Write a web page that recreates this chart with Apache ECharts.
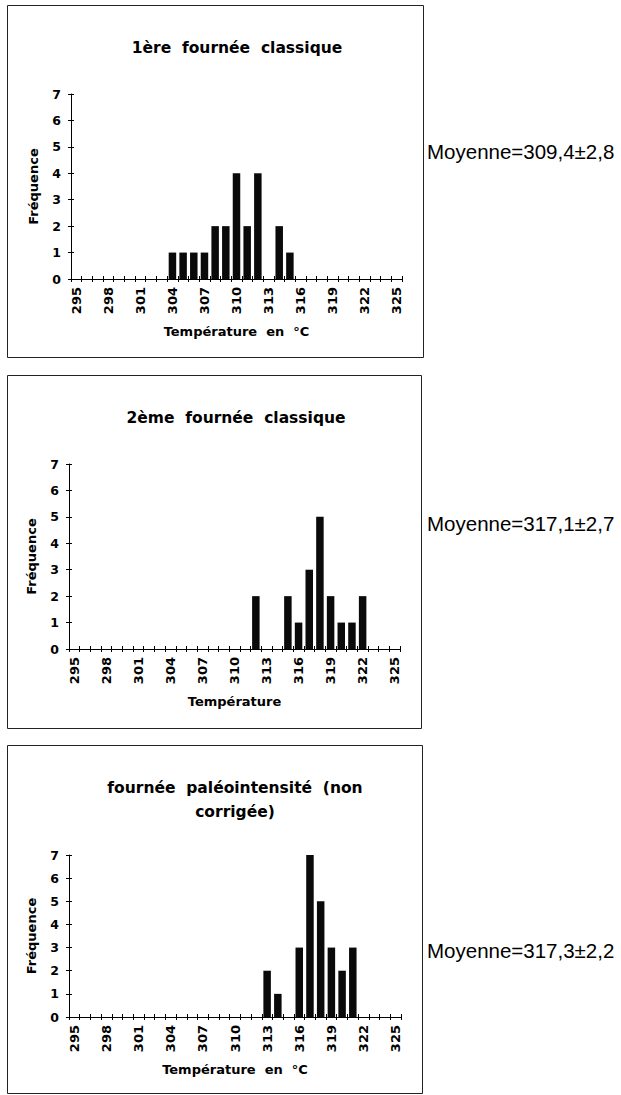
<!DOCTYPE html>
<html>
<head>
<meta charset="utf-8">
<script src="https://cdn.jsdelivr.net/npm/echarts@6/dist/echarts.min.js"></script>
<style>
  html, body { margin: 0; padding: 0; background: #fff; }
  #chart { width: 621px; height: 1095px; }
</style>
</head>
<body>
<div id="chart"></div>
<script>
// Temperature classes (°C), one bar slot per degree
const temperatures = ['295','296','297','298','299','300','301','302','303','304',
                      '305','306','307','308','309','310','311','312','313','314',
                      '315','316','317','318','319','320','321','322','323','324','325'];

// Frequencies per temperature class for each batch
const freqBatch1 = [0,0,0,0,0,0,0,0,0,1, 1,1,1,2,2,4,2,4,0,2, 1,0,0,0,0,0,0,0,0,0,0];
const freqBatch2 = [0,0,0,0,0,0,0,0,0,0, 0,0,0,0,0,0,0,2,0,0, 2,1,3,5,2,1,1,2,0,0,0];
const freqBatch3 = [0,0,0,0,0,0,0,0,0,0, 0,0,0,0,0,0,0,0,2,1, 0,3,7,5,3,2,3,0,0,0,0];

const panelTitles = ['1ère  fournée  classique',
                     '2ème  fournée  classique',
                     'fournée  paléointensité  (non\ncorrigée)'];
const xTitles = ['Température  en  °C', 'Température', 'Température  en  °C'];
const yTitle = 'Fréquence';
const meanLabels = ['Moyenne=309,4±2,8', 'Moyenne=317,1±2,7', 'Moyenne=317,3±2,2'];
const yTicks = { min: 0, max: 7, interval: 1 };

const seriesData = [freqBatch1, freqBatch2, freqBatch3];

// Layout of the three stacked panels
const layout = [
  { grid: { left: 71, top: 94,  width: 331, height: 185 }, box: [7, 5, 416, 352],   title: [237, 48],  mean: [427, 151] },
  { grid: { left: 69, top: 464, width: 331, height: 185 }, box: [7, 375, 414, 353], title: [236, 418], mean: [427, 523] },
  { grid: { left: 69, top: 855, width: 332, height: 162 }, box: [7, 745, 415, 348], title: [235, 788], mean: [427, 950] }
];

const FONT = '"DejaVu Sans", Verdana, sans-serif';
const boldText = (size) => ({ fontFamily: FONT, fontWeight: 'bold', fontSize: size, color: '#000' });

const grids = [], xAxes = [], yAxes = [], series = [], graphics = [];

layout.forEach((p, i) => {
  grids.push(Object.assign({ containLabel: false }, p.grid));

  // main category axis with labels and outward ticks
  xAxes.push({
    type: 'category', gridIndex: i, position: 'bottom', data: temperatures, boundaryGap: true,
    name: xTitles[i], nameLocation: 'middle', nameGap: 46,
    nameTextStyle: boldText(13),
    axisLine: { lineStyle: { color: '#000', width: 1 } },
    axisTick: { show: true, interval: 0, length: 3, lineStyle: { color: '#000' } },
    axisLabel: Object.assign({ interval: 2, rotate: 90, margin: 8 }, boldText(13)),
    splitLine: { show: false }
  });
  // overlay axis giving the inward half of each crossing tick
  xAxes.push({
    type: 'category', gridIndex: i, position: 'bottom', data: temperatures, boundaryGap: true,
    axisLine: { show: false },
    axisTick: { show: true, inside: true, interval: 0, length: 3, lineStyle: { color: '#000' } },
    axisLabel: { show: false }, splitLine: { show: false }
  });

  yAxes.push({
    type: 'value', gridIndex: i, position: 'left',
    min: yTicks.min, max: yTicks.max, interval: yTicks.interval,
    name: yTitle, nameLocation: 'middle', nameGap: 31, nameRotate: 90,
    nameTextStyle: boldText(13),
    axisLine: { show: true, lineStyle: { color: '#000', width: 1 } },
    axisTick: { show: true, length: 3, lineStyle: { color: '#000' } },
    axisLabel: Object.assign({ margin: 10 }, boldText(12.5)),
    splitLine: { show: false }
  });
  yAxes.push({
    type: 'value', gridIndex: i, position: 'left',
    min: yTicks.min, max: yTicks.max, interval: yTicks.interval,
    axisLine: { show: false },
    axisTick: { show: true, inside: true, length: 3, lineStyle: { color: '#000' } },
    axisLabel: { show: false }, splitLine: { show: false }
  });

  series.push({
    type: 'bar', xAxisIndex: i * 2, yAxisIndex: i * 2,
    data: seriesData[i], barWidth: 7.5,
    itemStyle: { color: '#0a0a0a' },
    silent: true, animation: false
  });

  // panel frame
  graphics.push({
    type: 'rect', silent: true,
    shape: { x: p.box[0] + 0.5, y: p.box[1] + 0.5, width: p.box[2], height: p.box[3] },
    style: { fill: 'none', stroke: '#222', lineWidth: 1 }
  });
  // panel title
  graphics.push({
    type: 'text', silent: true, x: p.title[0],
    y: i === 2 ? p.title[1] - 12 : p.title[1],
    style: {
      text: panelTitles[i], align: 'center', verticalAlign: i === 2 ? 'top' : 'middle',
      font: 'bold 15.5px ' + FONT, fill: '#000', lineHeight: 24
    }
  });
  // mean value beside the panel
  graphics.push({
    type: 'text', silent: true, x: p.mean[0], y: p.mean[1],
    style: {
      text: meanLabels[i], align: 'left', verticalAlign: 'middle',
      font: '20.5px "Liberation Sans", Arial, Helvetica, sans-serif', fill: '#000'
    }
  });
});

const chart = echarts.init(document.getElementById('chart'), null, { renderer: 'svg' });
chart.setOption({
  animation: false,
  backgroundColor: '#fff',
  grid: grids,
  xAxis: xAxes,
  yAxis: yAxes,
  series: series,
  graphic: graphics
});
</script>
</body>
</html>
